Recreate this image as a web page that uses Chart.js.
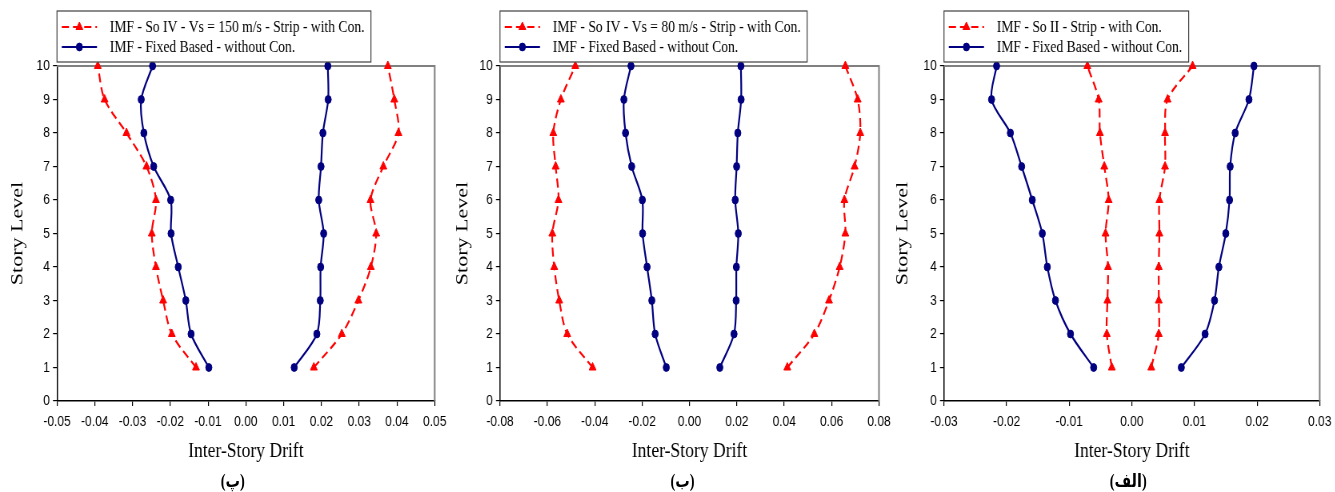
<!DOCTYPE html>
<html>
<head>
<meta charset="utf-8">
<script src="https://cdn.jsdelivr.net/npm/chart.js@4.4.0/dist/chart.umd.min.js"></script>
<style>
body { margin: 0; background: #fff; overflow: hidden; width: 1335px; height: 492px; position: relative; }
.panel { position: absolute; top: 0; width: 565px; height: 492px; transform: scaleX(0.8); transform-origin: 0 0; }
.cap { position: absolute; top: 470px; line-height: 22px; font: bold 18px "Liberation Serif", "DejaVu Sans"; transform: translateX(-50%); white-space: nowrap; color: #000; }
</style>
</head>
<body>
<div class="panel" style="left:0px"><canvas id="c1" width="565" height="492"></canvas><div class="cap" dir="rtl" style="left:291px">(پ)</div></div>
<div class="panel" style="left:445px"><canvas id="c2" width="565" height="492"></canvas><div class="cap" dir="rtl" style="left:297px">(ب)</div></div>
<div class="panel" style="left:885px"><canvas id="c3" width="565" height="492"></canvas><div class="cap" dir="rtl" style="left:304px">(الف)</div></div>
<script>
var levels = [1, 2, 3, 4, 5, 6, 7, 8, 9, 10];

// panel (پ) - So IV, Vs = 150 m/s
var soIV150Neg = [-0.0132, -0.0196, -0.0219, -0.0238, -0.0249, -0.0238, -0.0263, -0.0316, -0.0374, -0.0392];
var soIV150Pos = [0.0180, 0.0254, 0.0298, 0.0331, 0.0345, 0.0330, 0.0364, 0.0404, 0.0393, 0.0376];
// panel (ب) - So IV, Vs = 80 m/s
var soIV80Neg = [-0.0409, -0.0516, -0.0550, -0.0571, -0.0579, -0.0553, -0.0565, -0.0575, -0.0543, -0.0482];
var soIV80Pos = [0.0413, 0.0527, 0.0589, 0.0634, 0.0658, 0.0654, 0.0697, 0.0721, 0.0710, 0.0658];
// fixed base, panels (پ) and (ب)
var fixedANeg = [-0.0098, -0.0145, -0.0159, -0.0179, -0.0198, -0.0199, -0.0244, -0.0270, -0.0277, -0.0247];
var fixedAPos = [0.0128, 0.0188, 0.0197, 0.0198, 0.0206, 0.0193, 0.0199, 0.0204, 0.0218, 0.0217];
// panel (الف) - So II
var soIINeg = [-0.0032, -0.0040, -0.0039, -0.0038, -0.0042, -0.0037, -0.0044, -0.0051, -0.0053, -0.0071];
var soIIPos = [0.0031, 0.0043, 0.0043, 0.0043, 0.0044, 0.0044, 0.0053, 0.0053, 0.0057, 0.0097];
var fixedBNeg = [-0.0061, -0.0098, -0.0122, -0.0135, -0.0143, -0.0159, -0.0176, -0.0194, -0.0224, -0.0216];
var fixedBPos = [0.0079, 0.0117, 0.0132, 0.0139, 0.0150, 0.0156, 0.0157, 0.0165, 0.0187, 0.0195];

var redLabels = ["IMF - So IV - Vs = 150 m/s - Strip - with Con.", "IMF - So IV - Vs = 80 m/s - Strip - with Con.", "IMF - So II - Strip - with Con."];
var blueLabel = "IMF - Fixed Based - without Con.";
var xRanges = [[-0.05, 0.05, 0.01], [-0.08, 0.08, 0.02], [-0.03, 0.03, 0.01]];

var RED = "#ff0000";
var NAVY = "#000080";

function branch(label, values, color, dash, style, r, legend) {
  return {
    label: label,
    data: levels.map(function (y, i) { return { x: values[i], y: y }; }),
    borderColor: color,
    backgroundColor: color,
    pointBackgroundColor: color,
    pointBorderColor: color,
    pointBorderWidth: 1,
    borderWidth: 2.2,
    borderDash: dash,
    pointStyle: style,
    pointRadius: r,
    showLine: true,
    tension: 0.3,
    clip: false,
    inLegend: legend
  };
}

// gray top/right frame
var frame = {
  id: "frame",
  beforeDatasetsDraw: function (chart) {
    var a = chart.chartArea, ctx = chart.ctx;
    ctx.save();
    ctx.strokeStyle = "#808080";
    ctx.lineWidth = 2;
    ctx.beginPath();
    ctx.moveTo(a.left, a.top);
    ctx.lineTo(a.right, a.top);
    ctx.lineTo(a.right, a.bottom);
    ctx.stroke();
    ctx.restore();
  }
};

// boxed legend over the plot
var legendBox = {
  id: "legendBox",
  afterDraw: function (chart) {
    var ctx = chart.ctx;
    var x0 = chart.chartArea.left;
    var items = chart.data.datasets.filter(function (d) { return d.inLegend; });
    ctx.save();
    ctx.font = '17px "Liberation Serif"';
    var textX = x0 + 66;
    var w = Math.max.apply(null, items.map(function (d) { return ctx.measureText(d.label).width; }));
    ctx.fillStyle = "#fff";
    ctx.fillRect(x0, 11, textX + w + 8 - x0, 51);
    ctx.strokeStyle = "#404040";
    ctx.lineWidth = 1.2;
    ctx.strokeRect(x0, 11, textX + w + 8 - x0, 51);
    items.forEach(function (d, i) {
      var y = 27 + i * 20;
      ctx.strokeStyle = d.borderColor;
      ctx.fillStyle = d.borderColor;
      ctx.lineWidth = d.borderWidth;
      ctx.setLineDash(d.borderDash || []);
      ctx.beginPath();
      ctx.moveTo(x0 + 6, y);
      ctx.lineTo(x0 + 50, y);
      ctx.stroke();
      ctx.setLineDash([]);
      ctx.lineWidth = 1;
      Chart.helpers.drawPoint(ctx, { pointStyle: d.pointStyle, radius: d.pointRadius, rotation: 0, borderWidth: 1 }, x0 + 28, y);
      ctx.fillStyle = "#000";
      ctx.textBaseline = "middle";
      ctx.textAlign = "left";
      ctx.fillText(d.label, textX, y + 1);
    });
    ctx.restore();
  }
};

function makePanel(id, axisLeft, padRight, range, redLabel, redNeg, redPos, blueNeg, bluePos) {
  new Chart(id, {
    type: "scatter",
    data: {
      datasets: [
        branch(redLabel, redNeg, RED, [9, 5], "triangle", 5, true),
        branch(redLabel, redPos, RED, [9, 5], "triangle", 5, false),
        branch(blueLabel, blueNeg, NAVY, [], "circle", 3.9, true),
        branch(blueLabel, bluePos, NAVY, [], "circle", 3.9, false)
      ]
    },
    options: {
      responsive: false,
      animation: false,
      devicePixelRatio: 1,
      layout: { padding: { top: 66, right: padRight, bottom: 0, left: 0 } },
      plugins: { legend: { display: false }, tooltip: { enabled: false } },
      scales: {
        x: {
          type: "linear",
          min: range[0],
          max: range[1],
          afterFit: function (s) { s.height = 91; },
          grid: { drawOnChartArea: false, drawTicks: true, tickLength: 5, color: "#000", lineWidth: 1.2 },
          border: { display: true, color: "#000", width: 1.5 },
          ticks: {
            stepSize: range[2],
            autoSkip: false,
            maxRotation: 0,
            padding: 7,
            color: "#000",
            font: { family: "Liberation Sans", size: 15 },
            callback: function (v) { return Math.abs(v) < 1e-9 ? "0.00" : v.toFixed(2); }
          },
          title: {
            display: true,
            text: "Inter-Story Drift",
            color: "#000",
            font: { family: "Liberation Serif", size: 22 },
            padding: { top: 0, bottom: 28 }
          }
        },
        y: {
          min: 0,
          max: 10,
          afterFit: function (s) { s.width = axisLeft; },
          grid: { drawOnChartArea: false, drawTicks: true, tickLength: 5, color: "#000", lineWidth: 1.2 },
          border: { display: true, color: "#000", width: 1.5 },
          ticks: {
            stepSize: 1,
            padding: 4,
            color: "#000",
            font: { family: "Liberation Sans", size: 15 }
          },
          title: {
            display: true,
            text: "Story Level",
            color: "#000",
            font: { family: "Liberation Serif", size: 22 },
            padding: { top: 9, bottom: 0 }
          }
        }
      }
    },
    plugins: [frame, legendBox]
  });
}

makePanel("c1", 71.25, 20, xRanges[0], redLabels[0], soIV150Neg, soIV150Pos, fixedANeg, fixedAPos);
makePanel("c2", 68.75, 22.5, xRanges[1], redLabels[1], soIV80Neg, soIV80Pos, fixedANeg, fixedAPos);
makePanel("c3", 73.75, 18.75, xRanges[2], redLabels[2], soIINeg, soIIPos, fixedBNeg, fixedBPos);
</script>
</body>
</html>
